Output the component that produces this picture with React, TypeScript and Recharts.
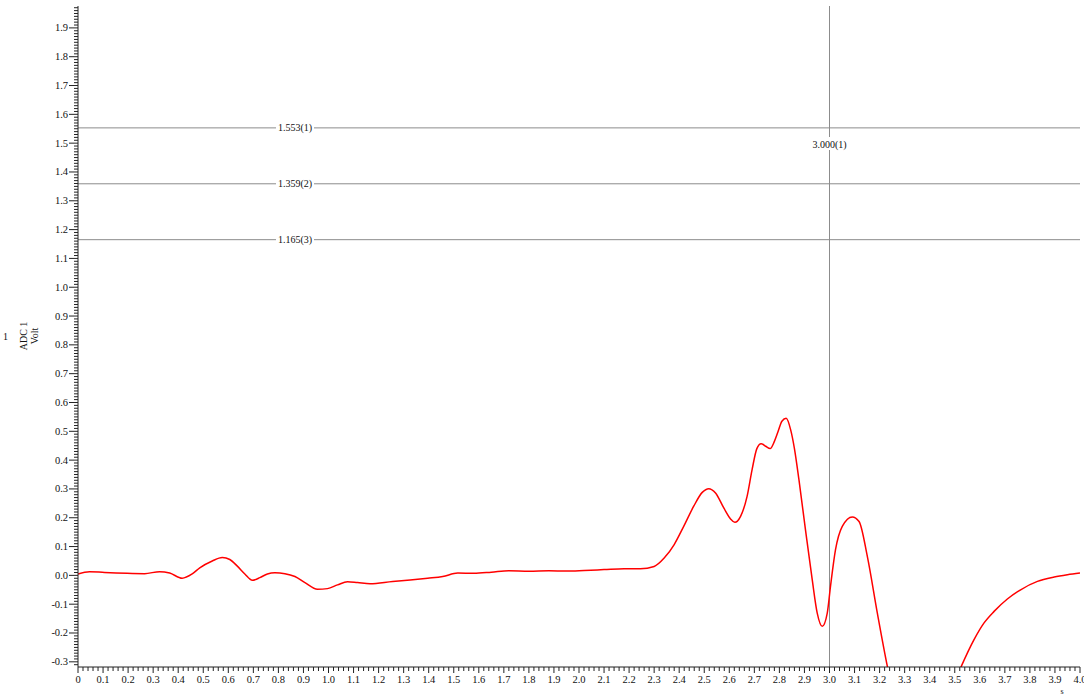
import { LineChart, Line, XAxis, YAxis, ReferenceLine } from "recharts";

// trace: time (s) and ADC 1 (Volt)
const times = [
  0.0, 0.046, 0.106, 0.196, 0.266, 0.326, 0.366, 0.416, 0.456, 0.486, 0.536, 0.576, 0.606, 0.636, 0.666, 0.696,
  0.726, 0.756, 0.786, 0.826, 0.866, 0.906, 0.956, 0.996, 1.036, 1.076, 1.116, 1.166, 1.256, 1.326, 1.396, 1.456,
  1.516, 1.58, 1.65, 1.72, 1.8, 1.88, 1.95, 2.02, 2.1, 2.18, 2.245, 2.3, 2.34, 2.38, 2.418, 2.458, 2.492, 2.518,
  2.545, 2.578, 2.605, 2.622, 2.645, 2.671, 2.691, 2.71, 2.727, 2.745, 2.763, 2.78, 2.795, 2.81, 2.827, 2.845,
  2.86, 2.878, 2.904, 2.931, 2.951, 2.971, 2.991, 3.004, 3.024, 3.051, 3.091, 3.118, 3.151, 3.191, 3.231, 3.27,
  3.32, 3.38, 3.44, 3.49, 3.526, 3.577, 3.617, 3.657, 3.71, 3.763, 3.83, 3.897, 3.95, 4.0,
];
const volts = [
  0.005, 0.013, 0.01, 0.007, 0.006, 0.013, 0.008, -0.01, 0.005, 0.026, 0.05, 0.062, 0.055, 0.032, 0.005, -0.017,
  -0.008, 0.005, 0.009, 0.006, -0.004, -0.025, -0.048, -0.046, -0.033, -0.022, -0.025, -0.029, -0.021, -0.016,
  -0.01, -0.004, 0.008, 0.007, 0.011, 0.016, 0.014, 0.016, 0.015, 0.017, 0.02, 0.023, 0.023, 0.031, 0.06, 0.107,
  0.17, 0.24, 0.288, 0.301, 0.286, 0.234, 0.196, 0.184, 0.205, 0.274, 0.367, 0.44, 0.457, 0.448, 0.44, 0.465, 0.5,
  0.535, 0.545, 0.505, 0.44, 0.332, 0.159, -0.015, -0.131, -0.177, -0.131, -0.038, 0.089, 0.17, 0.203, 0.187,
  0.066, -0.131, -0.316, -0.47, -0.57, -0.6, -0.54, -0.39, -0.316, -0.223, -0.165, -0.125, -0.082, -0.05, -0.021,
  -0.006, 0.002, 0.008,
];

const xLabels = [
  "0", "0.1", "0.2", "0.3", "0.4", "0.5", "0.6", "0.7", "0.8", "0.9", "1.0", "1.1", "1.2", "1.3", "1.4", "1.5",
  "1.6", "1.7", "1.8", "1.9", "2.0", "2.1", "2.2", "2.3", "2.4", "2.5", "2.6", "2.7", "2.8", "2.9", "3.0", "3.1",
  "3.2", "3.3", "3.4", "3.5", "3.6", "3.7", "3.8", "3.9", "4.0",
];
const yLabels = [
  "-0.3", "-0.2", "-0.1", "0.0", "0.1", "0.2", "0.3", "0.4", "0.5", "0.6", "0.7", "0.8", "0.9", "1.0", "1.1",
  "1.2", "1.3", "1.4", "1.5", "1.6", "1.7", "1.8", "1.9",
];

// cursors
const levels = [
  { y: 1.553, text: "1.553(1)" },
  { y: 1.359, text: "1.359(2)" },
  { y: 1.165, text: "1.165(3)" },
];
const timeCursor = { x: 3.0, text: "3.000(1)" };

const data = times.map((t, i) => ({ t, v: volts[i] }));
const xTicks = Array.from({ length: 201 }, (_, i) => i * 0.02);
const yTicks = Array.from({ length: 229 }, (_, i) => (i - 31) / 100);

const FONT = "'Liberation Serif', 'Times New Roman', serif";
const AXIS = "#222";
const CURSOR = "#8c8c8c";

function XTick(props: any) {
  const { x, y, payload } = props;
  const k = Math.round(payload.value * 50);
  const major = k % 5 === 0;
  return (
    <g>
      <line x1={x} x2={x} y1={y} y2={y + (major ? 6 : 4)} stroke={AXIS} />
      {major && (
        <text x={x} y={y + 16} textAnchor="middle" fontSize={10.5} fontFamily={FONT} fill="#111">
          {xLabels[k / 5]}
        </text>
      )}
    </g>
  );
}

function YTick(props: any) {
  const { x, y, payload } = props;
  const k = Math.round(payload.value * 100);
  const major = k % 10 === 0;
  return (
    <g>
      <line x1={x - (major ? 9 : 4)} x2={x} y1={y} y2={y} stroke={AXIS} />
      {major && (
        <text x={x - 10} y={y + 3.5} textAnchor="end" fontSize={10.5} fontFamily={FONT} fill="#111">
          {yLabels[k / 10 + 3]}
        </text>
      )}
    </g>
  );
}

function LevelTag(props: any) {
  const { viewBox, text } = props;
  const cx = viewBox.x + 217;
  const cy = viewBox.y;
  return (
    <g>
      <rect x={cx - 19} y={cy - 5} width={38} height={10} fill="#fff" />
      <text x={cx} y={cy + 3.5} textAnchor="middle" fontSize={10} fontFamily={FONT} fill="#111">
        {text}
      </text>
    </g>
  );
}

function TimeTag(props: any) {
  const { viewBox, text } = props;
  const cx = viewBox.x;
  const cy = viewBox.y + 138;
  return (
    <g>
      <rect x={cx - 19} y={cy - 7} width={38} height={13} fill="#fff" />
      <text x={cx} y={cy + 3.5} textAnchor="middle" fontSize={10} fontFamily={FONT} fill="#111">
        {text}
      </text>
    </g>
  );
}

export default function App() {
  return (
    <div style={{ position: "absolute", left: 0, top: 0, width: 1084, height: 699, background: "#fff" }}>
      <LineChart width={1084} height={699} data={data} margin={{ top: 6, right: 4, bottom: 0, left: 0 }}>
        <XAxis
          dataKey="t"
          type="number"
          domain={[0, 4]}
          allowDataOverflow
          ticks={xTicks}
          interval={0}
          tickSize={0}
          tickMargin={0}
          tickLine={false}
          tick={<XTick />}
          height={32}
          axisLine={{ stroke: AXIS }}
        />
        <YAxis
          type="number"
          domain={[-0.318, 1.976]}
          allowDataOverflow
          ticks={yTicks}
          interval={0}
          tickSize={0}
          tickMargin={0}
          tickLine={false}
          tick={<YTick />}
          width={78}
          axisLine={{ stroke: AXIS }}
        />
        {levels.map((l) => (
          <ReferenceLine key={l.text} y={l.y} stroke={CURSOR} label={<LevelTag text={l.text} />} />
        ))}
        <ReferenceLine x={timeCursor.x} stroke={CURSOR} label={<TimeTag text={timeCursor.text} />} />
        <Line
          type="monotone"
          dataKey="v"
          stroke="#ff0000"
          strokeWidth={1.5}
          dot={false}
          isAnimationActive={false}
        />
        <text x={3} y={340} fontSize={10} fontFamily={FONT} fill="#111">
          1
        </text>
        <text transform="translate(27,336) rotate(-90)" textAnchor="middle" fontSize={10} fontFamily={FONT} fill="#111">
          ADC 1
        </text>
        <text transform="translate(38,336) rotate(-90)" textAnchor="middle" fontSize={10} fontFamily={FONT} fill="#111">
          Volt
        </text>
        <text x={1062} y={694} textAnchor="middle" fontSize={8} fontFamily={FONT} fill="#111">
          s
        </text>
      </LineChart>
    </div>
  );
}
